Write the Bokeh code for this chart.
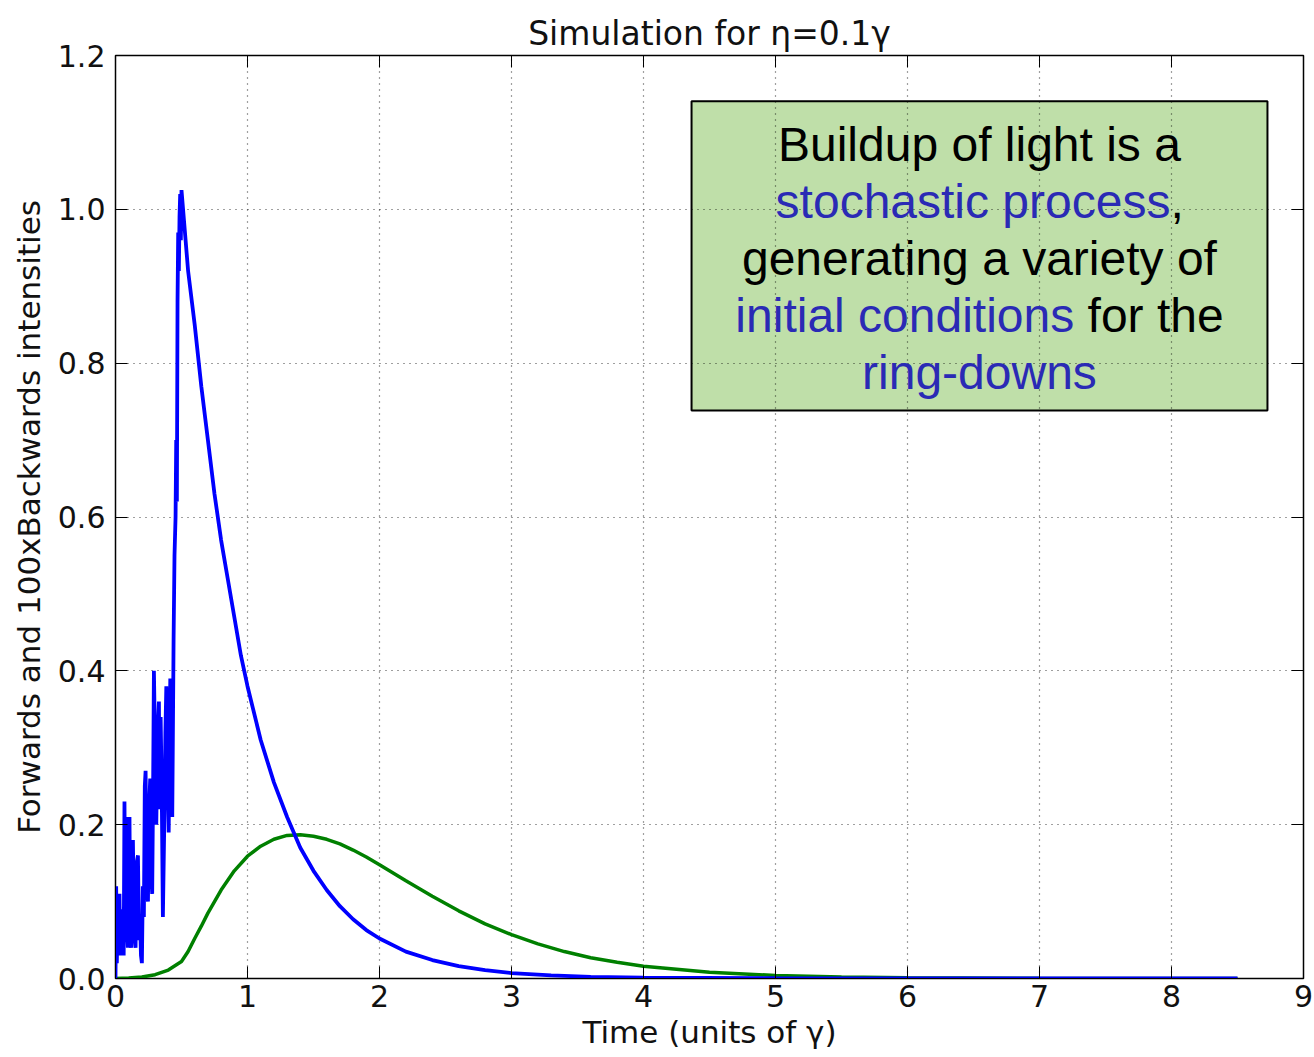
from bokeh.plotting import figure
from bokeh.models import Range1d, FixedTicker, LinearAxis, BoxAnnotation, NumeralTickFormatter
from bokeh.core.properties import value
from bokeh.embed import file_html
from bokeh.resources import INLINE

# Forward intensity (blue)
blue_t = [0.000, 0.005, 0.010, 0.018, 0.025, 0.030, 0.035, 0.043, 0.050, 0.056,
          0.062, 0.068, 0.075, 0.081, 0.088, 0.094, 0.100, 0.106, 0.112, 0.119,
          0.125, 0.132, 0.140, 0.152, 0.160, 0.170, 0.178, 0.187, 0.193, 0.200,
          0.207, 0.215, 0.222, 0.228, 0.236, 0.246, 0.254, 0.263, 0.270, 0.278,
          0.285, 0.291, 0.300, 0.309, 0.318, 0.329, 0.335, 0.342, 0.350, 0.359,
          0.365, 0.372, 0.378, 0.385, 0.393, 0.403, 0.409, 0.415, 0.422, 0.430,
          0.440, 0.447, 0.455, 0.460, 0.465, 0.470, 0.475, 0.480, 0.485, 0.490,
          0.495, 0.500, 0.55, 0.60, 0.65, 0.70, 0.75, 0.80, 0.85, 0.90,
          0.95, 1.00, 1.10, 1.20, 1.30, 1.40, 1.50, 1.60, 1.70, 1.80, 1.90,
          2.00, 2.20, 2.40, 2.60, 2.80, 3.00, 3.30, 3.60, 4.00, 5.00, 6.00,
          7.00, 8.50]
blue_v = [0.00, 0.12, 0.02, 0.10, 0.03, 0.11, 0.03, 0.09, 0.04, 0.07,
          0.03, 0.23, 0.05, 0.21, 0.06, 0.04, 0.18, 0.21, 0.05, 0.04,
          0.17, 0.18, 0.06, 0.04, 0.15, 0.16, 0.05, 0.07, 0.03, 0.02,
          0.12, 0.08, 0.25, 0.27, 0.12, 0.10, 0.22, 0.26, 0.14, 0.11,
          0.25, 0.40, 0.30, 0.20, 0.31, 0.36, 0.22, 0.34, 0.25, 0.08,
          0.15, 0.23, 0.32, 0.38, 0.29, 0.19, 0.30, 0.39, 0.28, 0.21,
          0.44, 0.55, 0.60, 0.70, 0.62, 0.88, 0.97, 0.92, 0.99, 1.02,
          0.96, 1.025, 0.92, 0.85, 0.77, 0.70, 0.63, 0.57, 0.52, 0.47,
          0.42, 0.38, 0.31, 0.255, 0.21, 0.17, 0.14, 0.115, 0.094, 0.077, 0.063,
          0.052, 0.035, 0.024, 0.016, 0.011, 0.007, 0.004, 0.002, 0.001, 0.0003, 0.0001,
          0.0, 0.0]

# 100 x Backward intensity (green)
green_t = [0.0, 0.1, 0.2, 0.3, 0.4, 0.5, 0.55, 0.6, 0.65, 0.7, 0.8, 0.9, 1.0,
           1.1, 1.2, 1.3, 1.4, 1.5, 1.6, 1.7, 1.8, 1.9, 2.0, 2.2, 2.4, 2.6,
           2.8, 3.0, 3.2, 3.4, 3.6, 3.8, 4.0, 4.5, 5.0, 5.5, 6.0, 7.0, 8.5]
green_v = [0.0, 0.0005, 0.002, 0.005, 0.011, 0.022, 0.035, 0.052, 0.068, 0.085,
           0.115, 0.140, 0.159, 0.172, 0.181, 0.186, 0.187, 0.185, 0.181, 0.175,
           0.167, 0.158, 0.148, 0.127, 0.107, 0.088, 0.071, 0.057, 0.045, 0.035,
           0.027, 0.021, 0.016, 0.008, 0.004, 0.002, 0.001, 0.0003, 0.0]

x_ticks = [0, 1, 2, 3, 4, 5, 6, 7, 8, 9]
y_ticks = [0.0, 0.2, 0.4, 0.6, 0.8, 1.0, 1.2]

TICK_FONT = "DejaVu Sans"

p = figure(width=1314, height=1057, frame_width=1188, frame_height=923,
           output_backend="svg", toolbar_location=None,
           x_range=Range1d(0, 9), y_range=Range1d(0, 1.2),
           min_border_left=115, min_border_right=11, min_border_top=55, min_border_bottom=79,
           x_axis_label="Time (units of γ)",
           y_axis_label="Forwards and 100xBackwards intensities")

p.title.text = "Simulation for η=0.1γ"
p.title.align = "center"
p.title.text_font = TICK_FONT
p.title.text_font_size = "33px"
p.title.text_font_style = "normal"
p.title.text_color = "#111111"
p.title.standoff = 6

p.outline_line_color = "black"
p.outline_line_width = 1.5
p.background_fill_color = "white"
p.border_fill_color = "white"

for ax in (p.xaxis[0], p.yaxis[0]):
    ax.major_tick_in = 12
    ax.major_tick_out = 0
    ax.minor_tick_line_color = None
    ax.axis_line_color = "black"
    ax.major_label_text_font = TICK_FONT
    ax.major_label_text_font_size = "30px"
    ax.major_label_text_color = "#111111"
    ax.axis_label_text_font = TICK_FONT
    ax.axis_label_text_font_size = "31px"
    ax.axis_label_text_font_style = "normal"
    ax.axis_label_text_color = "#111111"

p.xaxis.ticker = FixedTicker(ticks=x_ticks)
p.yaxis.ticker = FixedTicker(ticks=y_ticks)
p.yaxis.formatter = NumeralTickFormatter(format="0.0")
p.xaxis.major_label_standoff = 6
p.yaxis.major_label_standoff = 10
p.xaxis.axis_label_standoff = 4
p.yaxis.axis_label_standoff = 8

for loc, tk in (("right", y_ticks), ("above", x_ticks)):
    a = LinearAxis(ticker=FixedTicker(ticks=tk), major_tick_in=12, major_tick_out=0,
                   minor_tick_line_color=None, major_label_text_font_size="0px",
                   major_label_standoff=0, axis_line_color="black")
    p.add_layout(a, loc)

for g in (p.xgrid[0], p.ygrid[0]):
    g.grid_line_color = "black"
    g.grid_line_alpha = 0.75
    g.grid_line_dash = "1 5"
    g.grid_line_width = 1.2
p.xgrid.ticker = FixedTicker(ticks=x_ticks)
p.ygrid.ticker = FixedTicker(ticks=y_ticks)

# annotation box (drawn under grid so the dotted grid shows through)
box = BoxAnnotation(left=4.364, right=8.727, bottom=0.7386, top=1.1404,
                    fill_color="#bfdfa9", fill_alpha=1.0,
                    line_color="black", line_alpha=1.0, line_width=2, level="underlay")
p.center = [box] + list(p.center)

p.line(green_t, green_v, line_color="#008000", line_width=3.5)
p.line(blue_t, blue_v, line_color="#0000ff", line_width=3.8)

BLUE_TXT = "#2a2ab5"
FS = "48px"
FONT = value("Liberation Sans")

def txt(x, y, s, color, align):
    p.text(x=[x], y=[y], text=[s], text_color=color, text_font=FONT,
           text_font_size=FS, text_align=align, text_baseline="middle")

txt(6.545, 1.0845, "Buildup of light is a", "black", "center")
txt(7.992, 1.0104, "stochastic process", BLUE_TXT, "right")
txt(7.992, 1.0104, ",", "black", "left")
txt(6.545, 0.9363, "generating a variety of", "black", "center")
txt(7.263, 0.8622, "initial conditions", BLUE_TXT, "right")
txt(7.364, 0.8622, "for the", "black", "left")
txt(6.545, 0.7880, "ring-downs", BLUE_TXT, "center")

open("out.html", "w").write(file_html(p, INLINE))
